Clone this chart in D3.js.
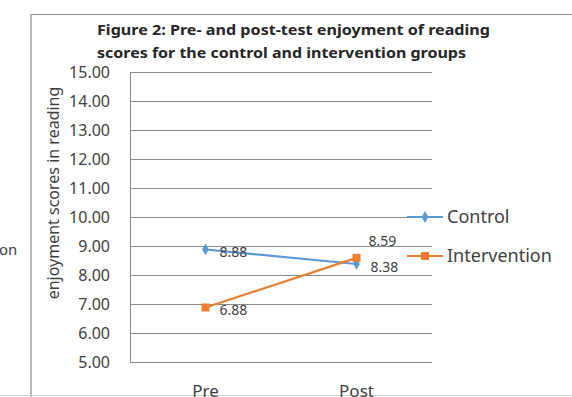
<!DOCTYPE html>
<html>
<head>
<meta charset="utf-8">
<script src="https://cdn.jsdelivr.net/npm/d3@7"></script>
<style>
  body { margin: 0; background: #fff; }
  svg { display: block; }
</style>
</head>
<body>
<div id="chart"></div>
<script>
// Data
const categories = ["Pre", "Post"];
const controlScores = [8.88, 8.38];
const interventionScores = [6.88, 8.59];
const seriesNames = ["Control", "Intervention"];
const yTicks = [5, 6, 7, 8, 9, 10, 11, 12, 13, 14, 15];

const W = 572, H = 397;
const plot = { left: 130, right: 432, top: 72, bottom: 362 };

const svg = d3.select("#chart")
    .append("svg")
    .attr("width", W)
    .attr("height", H);

const font = "'Noto Sans', sans-serif";
const textColor = "#404040";

// outer frame (chart area border, cut by the picture edges)
svg.append("path")
    .attr("d", `M31,${H} V14.5 H${W}`)
    .attr("fill", "none")
    .attr("stroke", "#8c8c8c")
    .attr("stroke-width", 1.2);
svg.append("line")
    .attr("x1", 0).attr("x2", W)
    .attr("y1", 395.5).attr("y2", 395.5)
    .attr("stroke", "#d0d0d0");

// Scales
const x = d3.scaleBand().domain(categories).range([plot.left, plot.right]);
const y = d3.scaleLinear().domain([5, 15]).range([plot.bottom, plot.top]);

// Gridlines
svg.append("g")
    .attr("class", "grid")
    .attr("transform", `translate(${plot.left},0)`)
    .call(d3.axisLeft(y).tickValues(yTicks).tickSize(-(plot.right - plot.left)).tickFormat(""))
    .call(g => g.select(".domain").remove())
    .call(g => g.selectAll("line").attr("stroke", "#8a8a8a").attr("stroke-width", 1));

// Left axis line
svg.append("line")
    .attr("x1", plot.left + 0.5).attr("x2", plot.left + 0.5)
    .attr("y1", plot.top).attr("y2", plot.bottom)
    .attr("stroke", "#8a8a8a");

// Y tick labels
svg.append("g")
    .attr("transform", `translate(${plot.left},0)`)
    .call(d3.axisLeft(y).tickValues(yTicks).tickSize(0).tickPadding(20).tickFormat(d3.format(".2f")))
    .call(g => g.select(".domain").remove())
    .call(g => g.selectAll("text")
        .attr("font-family", font)
        .attr("font-size", 16)
        .attr("fill", textColor));

// X labels (cut off by the bottom edge, as in the source)
svg.append("g")
    .attr("transform", `translate(0,${plot.bottom})`)
    .call(d3.axisBottom(x).tickSize(0).tickPadding(23))
    .call(g => g.select(".domain").remove())
    .call(g => g.selectAll("text")
        .attr("font-family", font)
        .attr("font-size", 17)
        .attr("fill", textColor));

// Y axis title
svg.append("text")
    .attr("transform", "translate(59,193) rotate(-90)")
    .attr("text-anchor", "middle")
    .attr("font-family", font)
    .attr("font-size", 16)
    .attr("fill", textColor)
    .text("enjoyment scores in reading");

// Title
const title = svg.append("text")
    .attr("font-family", font)
    .attr("font-weight", "bold")
    .attr("font-size", 14.5)
    .attr("fill", "#262626");
title.append("tspan").attr("x", 97).attr("y", 35)
    .attr("textLength", 393).attr("lengthAdjust", "spacingAndGlyphs")
    .text("Figure 2: Pre- and post-test enjoyment of reading");
title.append("tspan").attr("x", 97).attr("y", 58)
    .attr("textLength", 369).attr("lengthAdjust", "spacingAndGlyphs")
    .text("scores for the control and intervention groups");

// stray text cut at left edge
svg.append("text")
    .attr("x", -1).attr("y", 255)
    .attr("font-family", font)
    .attr("font-size", 15)
    .attr("fill", textColor)
    .text("on");

const colors = ["#5b9bd5", "#ed7d31"];
const series = [controlScores, interventionScores];

const line = d3.line()
    .x((d, i) => x(categories[i]) + x.bandwidth() / 2)
    .y(d => y(d));

const diamond = d3.symbol().type(d3.symbolDiamond).size(40);
const square = d3.symbol().type(d3.symbolSquare).size(64);
const shapes = [diamond, square];

series.forEach((vals, s) => {
    svg.append("path")
        .datum(vals)
        .attr("fill", "none")
        .attr("stroke", colors[s])
        .attr("stroke-width", 2.2)
        .attr("d", line);
    svg.selectAll(null)
        .data(vals)
        .join("path")
        .attr("transform", (d, i) => `translate(${x(categories[i]) + x.bandwidth() / 2},${y(d)})`)
        .attr("d", shapes[s]())
        .attr("fill", colors[s]);
});

// Data labels
const labelOffsets = [
    [[14, 8], [14, 8]],   // control: Pre, Post
    [[14, 8], [12, -12]]  // intervention
];
series.forEach((vals, s) => {
    svg.selectAll(null)
        .data(vals)
        .join("text")
        .attr("x", (d, i) => x(categories[i]) + x.bandwidth() / 2 + labelOffsets[s][i][0])
        .attr("y", (d, i) => y(d) + labelOffsets[s][i][1])
        .attr("font-family", font)
        .attr("font-size", 14)
        .attr("fill", textColor)
        .text(d => d3.format(".2f")(d));
});

// Legend
const legend = svg.append("g");
seriesNames.forEach((name, s) => {
    const ly = 217 + s * 39;
    legend.append("line")
        .attr("x1", 407).attr("x2", 443)
        .attr("y1", ly).attr("y2", ly)
        .attr("stroke", colors[s])
        .attr("stroke-width", 2.2);
    legend.append("path")
        .attr("transform", `translate(425,${ly})`)
        .attr("d", shapes[s]())
        .attr("fill", colors[s]);
    legend.append("text")
        .attr("x", 447).attr("y", ly + 6)
        .attr("font-family", font)
        .attr("font-size", 18)
        .attr("fill", textColor)
        .text(name);
});
</script>
</body>
</html>
